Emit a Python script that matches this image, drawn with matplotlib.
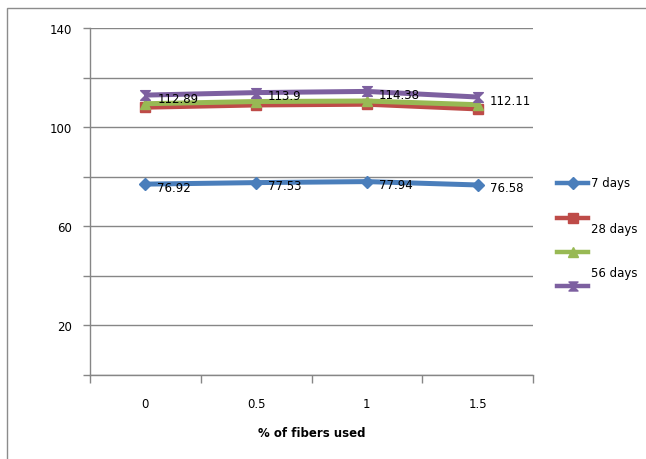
import matplotlib
matplotlib.use("Agg")
import matplotlib.pyplot as plt
from matplotlib.lines import Line2D
from matplotlib.patches import Rectangle
from matplotlib.path import Path
import numpy as np

categories = ["0", "0.5", "1", "1.5"]
days7 = [76.92, 77.53, 77.94, 76.58]
days28 = [108.0, 108.9, 109.2, 107.3]
days_green = [109.4, 110.3, 110.5, 109.0]
days56 = [112.89, 113.9, 114.38, 112.11]
series_names = ["7 days", "28 days", "", "56 days"]
y_ticks = [0, 20, 40, 60, 80, 100, 120, 140]
y_labels = ["", "20", "", "60", "", "100", "", "140"]

W, H = 646, 460
fig = plt.figure(figsize=(W / 100, H / 100), dpi=100)
ax = fig.add_axes([90 / W, 1 - 375.5 / H, (533 - 90) / W, (375.5 - 29) / H])

grid_c = "#868686"
colors = ["#4A7EBB", "#BE4B48", "#98B954", "#7D60A0"]
hourglass = Path([(-1, 1), (1, 1), (-1, -1), (1, -1), (-1, 1)],
                 [Path.MOVETO, Path.LINETO, Path.LINETO, Path.LINETO, Path.CLOSEPOLY])
markers = ["D", "s", "^", hourglass]
msizes = [6.5, 7, 7, 7]

x = np.arange(len(categories))
data = [days7, days28, days_green, days56]
for vals, c, m, ms in zip(data, colors, markers, msizes):
    ax.plot(x, vals, color=c, lw=3.6, marker=m, markersize=ms,
            markerfacecolor=c, markeredgecolor=c, zorder=3, solid_capstyle="butt")

for vals in (days7, days56):
    for xi, v in zip(x, vals):
        ax.annotate(f"{v:g}", (xi, v), xytext=(12, -3), textcoords="offset pixels",
                    ha="left", va="center", fontsize=8.5, color="black", zorder=5)

ax.set_ylim(0, 140)
ax.set_xlim(-0.5, len(categories) - 0.5)
ax.set_yticks(y_ticks)
ax.set_yticklabels(y_labels)
ax.yaxis.grid(True, color=grid_c, lw=1)
ax.set_axisbelow(True)

ax.set_xticks(np.arange(-0.5, len(categories)), minor=False)
ax.set_xticklabels([""] * (len(categories) + 1))
ax.set_xticks(x, minor=True)
ax.set_xticklabels(categories, minor=True)
ax.tick_params(axis="x", which="major", direction="out", length=6, color=grid_c, width=1)
ax.tick_params(axis="x", which="minor", length=0, pad=16, labelsize=8.5)
ax.tick_params(axis="y", direction="out", length=5, color=grid_c, width=1, labelsize=8.5, pad=8)

for s in ["top", "right"]:
    ax.spines[s].set_visible(False)
for s in ["left", "bottom"]:
    ax.spines[s].set_color(grid_c)
    ax.spines[s].set_linewidth(1)

ax.set_xlabel("% of fibers used", fontsize=8.5, fontweight="bold", labelpad=12)

# legend (manual layout to mimic reference)
handle_y = [184, 219, 253, 287]
text_y = [184, 230, None, 274]
for i, (c, m, ms) in enumerate(zip(colors, markers, msizes)):
    yy = 1 - handle_y[i] / H
    fig.add_artist(Line2D([557 / W, 588 / W], [yy, yy], color=c, lw=3.2,
                          transform=fig.transFigure))
    fig.add_artist(Line2D([572.5 / W], [yy], color=c, marker=m, markersize=ms - 0.5,
                          markerfacecolor=c, markeredgecolor=c, transform=fig.transFigure))
    if series_names[i]:
        fig.text(591 / W, 1 - text_y[i] / H, series_names[i], fontsize=8.5,
                 va="center", ha="left")

# outer chart border (only top and left visible in the crop)
fig.add_artist(Rectangle((7 / W, -0.1), 1.2, 1.1 - 9 / H, transform=fig.transFigure,
                         fill=False, edgecolor="#8c8c8c", lw=1))

fig.savefig("out.png", dpi=100)
